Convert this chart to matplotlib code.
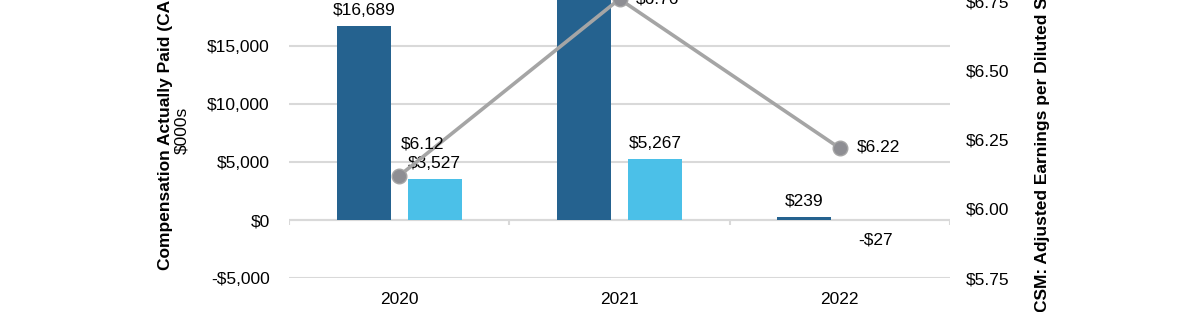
import numpy as np
import matplotlib
matplotlib.use('Agg')
import matplotlib.pyplot as plt
import matplotlib.ticker as mticker

plt.rcParams['font.family'] = ['Liberation Sans', 'DejaVu Sans']

years = ['2020', '2021', '2022']
cap_ceo = [16689, 21540, 239]
cap_neo = [3527, 5267, -27]
eps = [6.12, 6.76, 6.22]

dark = '#25628f'
light = '#4bc0e8'
grid_c = '#d9d9d9'

fig = plt.figure(figsize=(12, 3.12), dpi=100)
H = 312.0
bot_px, top_px = 278, -12
ax = fig.add_axes([289 / 1200, (H - bot_px) / H, (950 - 289) / 1200, (bot_px - top_px) / H])

x = np.arange(len(years))
w = 0.245
off = 0.161
ax.bar(x - off, cap_ceo, w, color=dark, zorder=2)
ax.bar(x + off, cap_neo, w, color=light, zorder=2)

ax.set_xlim(-0.5, 2.5)
ax.set_ylim(-5000, 20000)
ax.yaxis.set_major_locator(mticker.MultipleLocator(5000))
ax.yaxis.set_major_formatter(mticker.FuncFormatter(
    lambda v, p: ('-$' if v < 0 else '$') + f'{abs(v):,.0f}'))
ax.grid(axis='y', color=grid_c, linewidth=1.5, zorder=0)
ax.axhline(0, color=grid_c, linewidth=1.5, zorder=1)
ax.vlines([-0.5, 0.5, 1.5, 2.5], -450, 0, color=grid_c, linewidth=1.5, zorder=1)
for s in ax.spines.values():
    s.set_visible(False)
ax.tick_params(axis='y', length=0, labelsize=12.5, pad=14)
ax.set_xticks(x)
ax.set_xticklabels(years)
ax.tick_params(axis='x', length=0, labelsize=12.5, pad=10)

for xi, v in zip(x, cap_ceo):
    ax.annotate(f'${v:,}', (xi - off, v), xytext=(0, 6), textcoords='offset points',
                ha='center', va='bottom', fontsize=12.5)
for xi, v in zip(x, cap_neo):
    lab = ('-$' if v < 0 else '$') + f'{abs(v):,}'
    if v < 0:
        ax.annotate(lab, (xi + off, v), xytext=(0, -9), textcoords='offset points',
                    ha='center', va='top', fontsize=12.5)
    else:
        ax.annotate(lab, (xi + off, v), xytext=(0, 6), textcoords='offset points',
                    ha='center', va='bottom', fontsize=12.5)

ax.set_ylabel('Compensation Actually Paid (CAP)', fontsize=12.5, fontweight='bold')
ax.yaxis.set_label_coords(-0.175, 0.524)
fig.text(182 / 1200, (H - 130) / H, '$000s', rotation=90, ha='center', va='center', fontsize=12.5)

ax2 = ax.twinx()
ax2.set_ylim(5.75, 6.80)
ax2.yaxis.set_major_locator(mticker.MultipleLocator(0.25))
ax2.yaxis.set_major_formatter(mticker.FuncFormatter(lambda v, p: f'${v:.2f}'))
for s in ax2.spines.values():
    s.set_visible(False)
ax2.tick_params(axis='y', length=0, labelsize=12.5, pad=11.5)
ax2.plot(x, eps, color='#a5a5a5', linewidth=2.6, marker='o', markersize=10.5,
         markerfacecolor='#8e8e93', markeredgecolor='#a5a5a5', zorder=3)
offsets = [(1, 23), (12, 0), (12, 1)]
for xi, v, o in zip(x, eps, offsets):
    ax2.annotate(f'${v:.2f}', (xi, v), xytext=o, textcoords='offset points',
                 ha='left', va='center', fontsize=12.5)
ax2.set_ylabel('CSM: Adjusted Earnings per Diluted Share', fontsize=12.5, fontweight='bold')
ax2.yaxis.set_label_coords(1.128, 0.49)

fig.savefig('out.png', dpi=100)
